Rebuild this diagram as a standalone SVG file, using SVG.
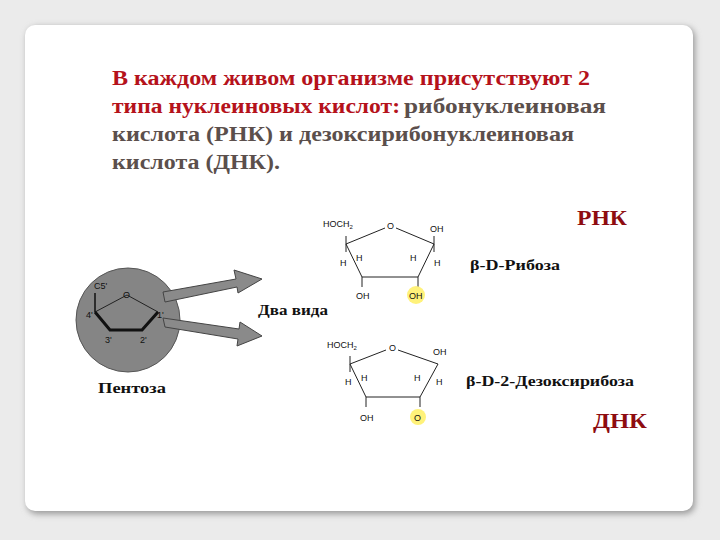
<svg xmlns="http://www.w3.org/2000/svg" width="720" height="540" viewBox="0 0 720 540">
<defs>
<filter id="sh" x="-5%" y="-5%" width="110%" height="110%"><feGaussianBlur stdDeviation="3"/></filter>
</defs>
<style>
.t{font-family:"Liberation Serif","Times New Roman","DejaVu Serif",serif;font-weight:bold;font-size:20px}
.r{fill:#b5121b}.g{fill:#5b4f4c}
.c{font-family:"Liberation Sans",Arial,sans-serif;font-size:9px;fill:#111}
.lb{font-family:"Liberation Serif","Times New Roman","DejaVu Serif",serif;font-weight:bold;font-size:15px;fill:#111}
.big{font-family:"Liberation Serif","Times New Roman","DejaVu Serif",serif;font-weight:bold;font-size:21px;fill:#8e0c10}
.ln{fill:none;stroke:#222;stroke-width:1}
</style>
<rect width="720" height="540" fill="#ebebeb"/>
<rect x="27" y="27" width="668" height="487" rx="10" fill="#999" filter="url(#sh)"/>
<rect x="25" y="25" width="668" height="486" rx="10" fill="#fff"/>
<g id="title">
<text class="t r" x="112" y="85" textLength="478" lengthAdjust="spacingAndGlyphs">В каждом живом организме присутствуют 2</text>
<text class="t r" x="112" y="113" textLength="288" lengthAdjust="spacingAndGlyphs">типа нуклеиновых кислот:</text>
<text class="t g" x="404" y="113" textLength="202" lengthAdjust="spacingAndGlyphs">рибонуклеиновая</text>
<text class="t g" x="112" y="141" textLength="462" lengthAdjust="spacingAndGlyphs">кислота (РНК) и дезоксирибонуклеиновая</text>
<text class="t g" x="112" y="169" textLength="168" lengthAdjust="spacingAndGlyphs">кислота (ДНК).</text>
</g>
<g id="pentose">
<circle cx="128" cy="320" r="52" fill="#858585" stroke="#555" stroke-width="1"/>
<polyline class="ln" points="95,312 127,295 158,312" stroke-width="1.5"/>
<polyline points="95,312 110,330 142,330 158,312" fill="none" stroke="#111" stroke-width="3"/>
<line x1="95" y1="312" x2="95" y2="293" stroke="#111" stroke-width="1.5"/>
<text class="c" x="94" y="289" font-size="11">C5'</text>
<text class="c" x="123" y="298" font-size="11">O</text>
<text class="c" x="86" y="318" font-size="11">4'</text>
<text class="c" x="157" y="318" font-size="11">1'</text>
<text class="c" x="105" y="343" font-size="11">3'</text>
<text class="c" x="140" y="343" font-size="11">2'</text>
<text class="lb" x="98" y="393" textLength="68" lengthAdjust="spacingAndGlyphs">Пентоза</text>
</g>
<g id="connectors">
<polygon points="163,292 236,279 234,270 262,279 238,293 237,287 165,302" fill="#8a8a8a" stroke="#444" stroke-width="1"/>
<polygon points="163,318 165,327 238,339 237,346 262,336 240,322 239,329" fill="#8a8a8a" stroke="#444" stroke-width="1"/>
<text class="lb" x="258" y="315" textLength="70" lengthAdjust="spacingAndGlyphs">Два вида</text>
</g>
<g id="ribose">
<text class="c" x="323" y="227">HOCH<tspan font-size="6" dy="2">2</tspan></text>
<text class="c" x="387" y="229">O</text>
<text class="c" x="430" y="232">OH</text>
<polyline class="ln" points="385,228 346,244 362,277 418,277 434,244 396,228"/>
<line class="ln" x1="346" y1="236" x2="346" y2="252"/>
<line class="ln" x1="434" y1="236" x2="434" y2="252"/>
<line class="ln" x1="362" y1="277" x2="362" y2="287"/>
<line class="ln" x1="418" y1="277" x2="418" y2="287"/>
<text class="c" x="340" y="266">H</text>
<text class="c" x="356" y="261">H</text>
<text class="c" x="410" y="261">H</text>
<text class="c" x="434" y="266">H</text>
<text class="c" x="356" y="299">OH</text>
<circle cx="416" cy="295" r="9" fill="#fff27a"/>
<text class="c" x="409" y="299">OH</text>
<text class="lb" x="470" y="270" textLength="90" lengthAdjust="spacingAndGlyphs">β-D-Рибоза</text>
</g>
<g id="deoxyribose">
<text class="c" x="327" y="348">HOCH<tspan font-size="6" dy="2">2</tspan></text>
<text class="c" x="389" y="351">O</text>
<text class="c" x="433" y="355">OH</text>
<polyline class="ln" points="386,350 350,364 366,397 420,397 438,364 398,350"/>
<line class="ln" x1="350" y1="356" x2="350" y2="372"/>
<line class="ln" x1="366" y1="397" x2="366" y2="407"/>
<line class="ln" x1="420" y1="397" x2="420" y2="407"/>
<text class="c" x="345" y="385">H</text>
<text class="c" x="361" y="381">H</text>
<text class="c" x="414" y="381">H</text>
<text class="c" x="436" y="385">H</text>
<text class="c" x="360" y="421">OH</text>
<circle cx="418" cy="417" r="8" fill="#fff27a"/>
<text class="c" x="414" y="421">O</text>
<text class="lb" x="466" y="386" textLength="168" lengthAdjust="spacingAndGlyphs">β-D-2-Дезоксирибоза</text>
</g>
<text class="big" x="577" y="225" textLength="50" lengthAdjust="spacingAndGlyphs">РНК</text>
<text class="big" x="593" y="428" textLength="54" lengthAdjust="spacingAndGlyphs">ДНК</text>
</svg>
